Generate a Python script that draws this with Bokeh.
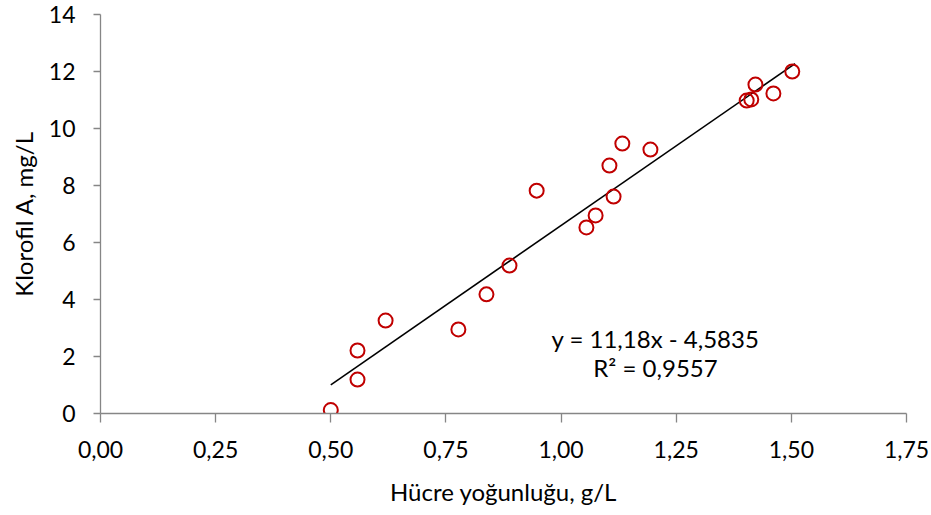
from bokeh.plotting import figure
from bokeh.models import Range1d, FixedTicker, ColumnDataSource, Label
from bokeh.embed import file_html
from bokeh.resources import INLINE
import numpy as np

# Data
cell_density = [0.50, 0.558, 0.558, 0.619, 0.777, 0.838, 0.888, 0.947, 1.055, 1.075,
                1.114, 1.105, 1.133, 1.194, 1.403, 1.413, 1.422, 1.461, 1.502]
chlorophyll = [0.12, 1.19, 2.21, 3.26, 2.95, 4.18, 5.19, 7.82, 6.53, 6.95,
               7.61, 8.70, 9.47, 9.26, 10.98, 11.02, 11.54, 11.23, 12.00]

trend_slope = 11.18
trend_intercept = -4.5835
equation_text = "y = 11,18x - 4,5835"
r2_text = "R² = 0,9557"

x_ticks = [0.0, 0.25, 0.5, 0.75, 1.0, 1.25, 1.5, 1.75]
x_tick_labels = ["0,00", "0,25", "0,50", "0,75", "1,00", "1,25", "1,50", "1,75"]
y_ticks = [0, 2, 4, 6, 8, 10, 12, 14]

FONT = "Lato"
AXIS_COLOR = "#868686"
TEXT_COLOR = "#000000"

p = figure(width=931, height=515, output_backend="svg", toolbar_location=None,
           x_range=Range1d(0, 1.75), y_range=Range1d(0, 14),
           min_border_left=100, min_border_right=25, min_border_top=14,
           min_border_bottom=102)
p.outline_line_color = None
p.xgrid.grid_line_color = None
p.ygrid.grid_line_color = None
p.background_fill_color = "white"
p.border_fill_color = "white"

# Trend line
tx = np.array([min(cell_density), 1.508])
ty = trend_slope * tx + trend_intercept
p.line(tx, ty, line_color="black", line_width=1.6)

src = ColumnDataSource(dict(x=cell_density, y=chlorophyll))
p.scatter("x", "y", source=src, size=14, marker="circle", fill_color=None,
          line_color="#C00000", line_width=2)

for ax in (p.xaxis[0], p.yaxis[0]):
    ax.axis_line_color = AXIS_COLOR
    ax.axis_line_width = 1.3
    ax.major_tick_line_color = AXIS_COLOR
    ax.major_tick_line_width = 1.3
    ax.major_tick_in = 0
    ax.minor_tick_line_color = None
    ax.major_label_text_font = FONT
    ax.major_label_text_font_size = "23px"
    ax.major_label_text_color = TEXT_COLOR
    ax.axis_label_text_font = FONT
    ax.axis_label_text_font_size = "24px"
    ax.axis_label_text_font_style = "normal"
    ax.axis_label_text_color = TEXT_COLOR

p.xaxis.major_tick_out = 9
p.yaxis.major_tick_out = 7
p.xaxis.ticker = FixedTicker(ticks=x_ticks)
p.xaxis.major_label_overrides = {t: l for t, l in zip(x_ticks, x_tick_labels)}
p.yaxis.ticker = FixedTicker(ticks=y_ticks)
p.xaxis.axis_label = "Hücre yoğunluğu, g/L"
p.yaxis.axis_label = "Klorofil A, mg/L"
p.xaxis.major_label_standoff = 18
p.xaxis.axis_label_standoff = 16
p.yaxis.major_label_standoff = 18
p.yaxis.axis_label_standoff = 8

p.add_layout(Label(x=1.205, y=2.63, text=equation_text, text_align="center",
                   text_baseline="middle", text_font=FONT, text_font_size="24px",
                   text_color=TEXT_COLOR))
p.add_layout(Label(x=1.205, y=1.61, text=r2_text, text_align="center",
                   text_baseline="middle", text_font=FONT, text_font_size="24px",
                   text_color=TEXT_COLOR))

open("out.html", "w").write(file_html(p, INLINE))
